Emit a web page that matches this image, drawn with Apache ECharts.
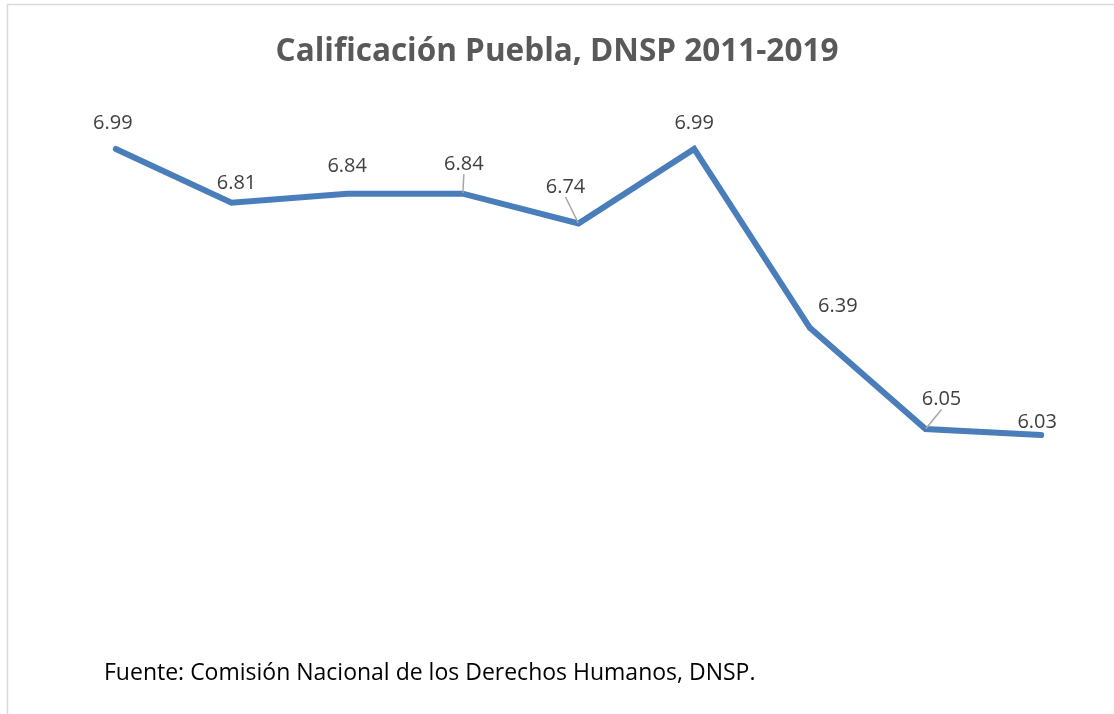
<!DOCTYPE html>
<html>
<head>
<meta charset="utf-8">
<script src="https://cdn.jsdelivr.net/npm/echarts@6/dist/echarts.min.js"></script>
<style>html,body{margin:0;padding:0;background:#fff}#c{width:1114px;height:714px}</style>
</head>
<body>
<div id="c"></div>
<script>
const years = ['2011','2012','2013','2014','2015','2016','2017','2018','2019'];
const scores = [6.99, 6.81, 6.84, 6.84, 6.74, 6.99, 6.39, 6.05, 6.03];
const titleText = 'Calificación Puebla, DNSP 2011-2019';
const sourceText = 'Fuente: Comisión Nacional de los Derechos Humanos, DNSP.';
// label displacement (dx, dy) relative to the default 'top' position
const labelShift = [[-3,-10],[5,-4],[0,-12],[1,-14],[-13,-21],[0,-10],[28,-6],[16,-14],[-4,3]];
const leaderIdx = [3,4,7];

const chart = echarts.init(document.getElementById('c'), null, {renderer:'canvas'});
chart.setOption({
  animation:false,
  backgroundColor:'#fff',
  title:{text:titleText,left:'center',top:31,
    textStyle:{fontFamily:'Open Sans',fontWeight:'bold',fontSize:31.5,color:'#595959'}},
  grid:{left:58,right:15,top:146,bottom:121},
  xAxis:{type:'category',data:years,boundaryGap:true,show:false},
  yAxis:{type:'value',min:5.5,max:7,show:false,splitLine:{show:false}},
  graphic:[
    {type:'rect',shape:{x:7.5,y:4.5,width:1200,height:800},style:{fill:'none',stroke:'#d9d9d9',lineWidth:1.5},silent:true},
    {type:'text',left:104,top:662,style:{text:sourceText,fontFamily:'Open Sans',fontSize:23,fill:'#000'}}
  ],
  series:[{
    type:'line',
    data:scores.map((v,i)=>({value:v,labelLine:{show:leaderIdx.includes(i)}})),
    symbol:'circle',
    symbolSize:1,
    showSymbol:true,
    itemStyle:{color:'#4a7ebb'},
    lineStyle:{color:'#4a7ebb',width:6,cap:'round',join:'miter'},
    label:{show:true,position:'top',distance:5,fontFamily:'Open Sans',fontSize:20,color:'#404040',formatter:p=>p.value.toFixed(2)},
    labelLine:{show:false,lineStyle:{color:'#a6a6a6',width:1.5}},
    labelLayout:function(p){const s=labelShift[p.dataIndex];return {dx:s[0],dy:s[1]};}
  }]
});
</script>
</body>
</html>
